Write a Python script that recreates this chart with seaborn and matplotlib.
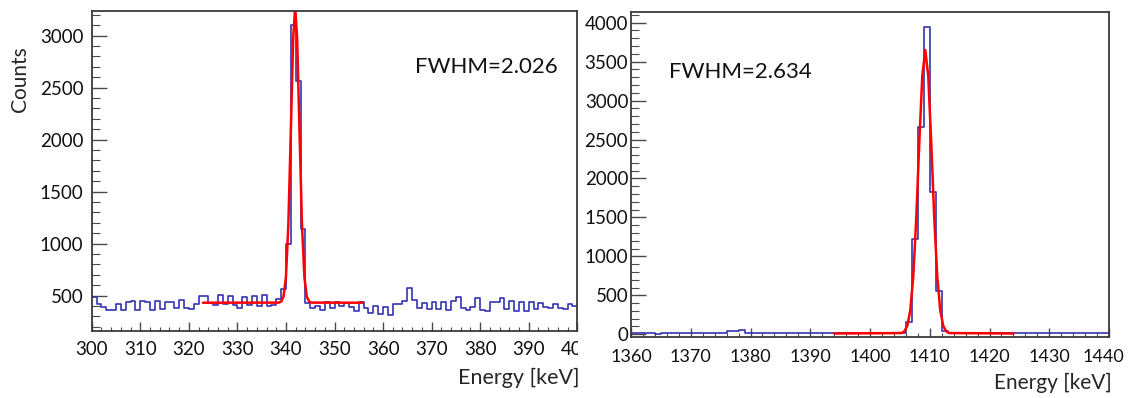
import numpy as np
import matplotlib
matplotlib.use("Agg")
import matplotlib.pyplot as plt
import seaborn as sns
from matplotlib.ticker import MultipleLocator
from matplotlib.transforms import Bbox, TransformedBbox, ScaledTranslation

sns.set_style("ticks")
plt.rcParams['font.family'] = ['Lato', 'DejaVu Sans']

# ---------------- data ----------------
# Left spectrum: 1 keV bins from 300 to 400 keV
left_edges = list(range(300, 401))
left_counts = [490, 420, 390, 360, 360, 420, 360, 440, 450, 360,
               450, 440, 360, 450, 370, 440, 440, 380, 460, 380,
               370, 420, 500, 500, 430, 410, 510, 420, 500, 410,
               380, 490, 410, 500, 400, 510, 400, 410, 470, 560,
               1000, 3100, 2560, 1140, 430, 380, 400, 360, 440, 380,
               440, 400, 430, 390, 350, 440, 380, 330, 400, 320,
               390, 310, 420, 420, 450, 570, 460, 380, 430, 370,
               440, 370, 440, 360, 450, 490, 380, 360, 390, 480,
               360, 350, 440, 440, 480, 370, 450, 350, 440, 350,
               440, 370, 430, 390, 380, 420, 380, 370, 420, 400]
left_fit_x = [322.9, 338.5, 339.0, 339.5, 340.0, 340.5, 341.0, 341.5, 341.9,
              342.3, 342.8, 343.3, 343.8, 344.3, 344.8, 345.3, 355.8]
left_fit_y = [432, 433, 442, 490, 679, 1187, 2074, 2980, 3272,
              2980, 2074, 1187, 679, 490, 442, 433, 432]

# Right spectrum: 1 keV bins from 1360 to 1440 keV
right_edges = list(range(1360, 1441))
right_counts = [15, 12, 18, 14, 10, 16, 13, 17, 12, 15,
                18, 14, 11, 16, 13, 15, 40, 42, 55, 20,
                14, 12, 16, 13, 15, 11, 14, 17, 12, 15,
                13, 16, 12, 14, 15, 11, 13, 16, 14, 12,
                15, 13, 17, 14, 20, 15, 160, 1220, 2660, 3940,
                1830, 560, 40, 15, 12, 14, 11, 13, 15, 12,
                14, 12, 13, 11, 15, 12, 14, 13, 12, 14,
                11, 13, 12, 14, 12, 13, 11, 12, 13, 12]
right_fit_x = [1394, 1405.25, 1405.75, 1406.25, 1406.75, 1407.25, 1407.75,
               1408.25, 1408.75, 1409.25, 1409.75, 1410.25, 1410.75,
               1411.25, 1411.75, 1412.25, 1412.75, 1413.25, 1424]
right_fit_y = [10, 16, 38, 110, 312, 751, 1499, 2459, 3313, 3650, 3313,
               2459, 1499, 751, 312, 110, 38, 16, 10]

labels_fwhm = ["FWHM=2.026", "FWHM=2.634"]

# ---------------- figure ----------------
W, H = 1128, 398
fig = plt.figure(figsize=(W / 100, H / 100), dpi=100)
ax1 = fig.add_axes([91.7 / W, 1 - 331 / H, (577.3 - 91.7) / W, (331 - 10.7) / H])
ax2 = fig.add_axes([631 / W, 1 - 336.7 / H, (1109 - 631) / W, (336.7 - 12.3) / H])

hist_color = "#3434b2"
fit_color = "#ff0000"

def centers(edges):
    e = np.asarray(edges, dtype=float)
    return (e[:-1] + e[1:]) / 2

sns.histplot(x=centers(left_edges), weights=left_counts, bins=left_edges,
             element="step", fill=False, color=hist_color, linewidth=1.2, ax=ax1)
sns.lineplot(x=left_fit_x, y=left_fit_y, color=fit_color, linewidth=1.8, ax=ax1)

sns.histplot(x=centers(right_edges), weights=right_counts, bins=right_edges,
             element="step", fill=False, color=hist_color, linewidth=1.2, ax=ax2)
sns.lineplot(x=right_fit_x, y=right_fit_y, color=fit_color, linewidth=1.8, ax=ax2)

ax1.set_xlim(300, 400)
ax1.set_ylim(160, 3240)
ax2.set_xlim(1360, 1440)
ax2.set_ylim(-31, 4133)

for ax in (ax1, ax2):
    ax.xaxis.set_major_locator(MultipleLocator(10))
    ax.xaxis.set_minor_locator(MultipleLocator(2))
    ax.yaxis.set_major_locator(MultipleLocator(500))
    ax.yaxis.set_minor_locator(MultipleLocator(100))
    for s in ax.spines.values():
        s.set_visible(True)
        s.set_color("#3a3a3a")
        s.set_linewidth(1.3)
    ax.tick_params(axis="both", which="both", direction="in", top=False, right=False,
                   color="#4a4a4a", labelcolor="#111111")
    ax.tick_params(axis="x", which="major", length=6.5, width=1.0, labelsize=13.5)
    ax.tick_params(axis="x", which="minor", length=3.0, width=0.8)
    ax.tick_params(axis="y", which="major", length=11, width=1.0, labelsize=13.5)
    ax.tick_params(axis="y", which="minor", length=5.5, width=0.8)

ax1.tick_params(axis="x", which="major", pad=7)
ax1.tick_params(axis="y", which="major", pad=6)
ax2.tick_params(axis="x", which="major", pad=9, labelsize=13)
ax2.tick_params(axis="y", which="major", pad=2)

ax1.set_ylabel("Counts", fontsize=15, loc="top")
ax1.yaxis.set_label_coords(-0.127, 0.888)
ax2.set_ylabel("")

ax1.set_xlabel("Energy [keV]", fontsize=15.5, loc="right")
ax1.xaxis.set_label_coords(1.0056, -0.115)
ax2.set_xlabel("Energy [keV]", fontsize=15, loc="right")
ax2.xaxis.set_label_coords(1.006, -0.112)

ax1.text(0.666, 0.825, labels_fwhm[0], transform=ax1.transAxes, fontsize=16,
         ha="left", va="center", color="#111111")
ax2.text(0.0795, 0.816, labels_fwhm[1], transform=ax2.transAxes, fontsize=16,
         ha="left", va="center", color="#111111")

# left panel image is cut at its right edge: clip the "400" label
clip = TransformedBbox(Bbox.from_extents(0, 0, 578 / W, 1), fig.transFigure)
for t in ax1.xaxis.get_major_ticks():
    t.label1.set_clip_box(clip)
    t.label1.set_clip_on(True)

# keep the last right-panel label ("1440") inside the picture
rticks = ax2.xaxis.get_major_ticks()
last = rticks[len(ax2.get_xticks()) - 1] if len(rticks) >= len(ax2.get_xticks()) else rticks[-1]
for t in rticks:
    pass
fig.canvas.draw()
for t in ax2.xaxis.get_major_ticks():
    if t.label1.get_text() == "1440":
        t.label1.set_transform(t.label1.get_transform() +
                               ScaledTranslation(-6 / 100, 0, fig.dpi_scale_trans))

fig.savefig("out.png", dpi=100, facecolor="white")
